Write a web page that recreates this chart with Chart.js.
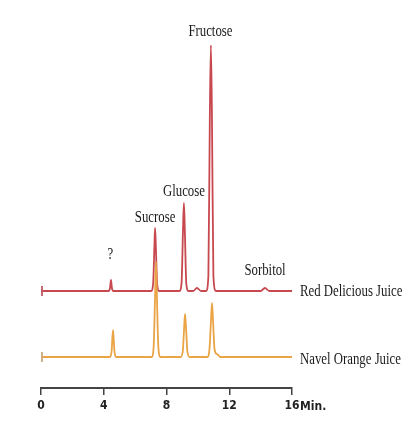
<!DOCTYPE html>
<html>
<head>
<meta charset="utf-8">
<script src="https://cdn.jsdelivr.net/npm/chart.js@4"></script>
<style>
  html, body { margin: 0; padding: 0; background: #fff; }
  #wrap { width: 412px; height: 422px; }
</style>
</head>
<body>
<div id="wrap"><canvas id="chart" width="412" height="422"></canvas></div>
<script>
//---data: time in minutes, signal above each trace's own baseline---
var redTimes = [0, 4.30, 4.40, 4.46, 4.52, 4.62,
  7.02, 7.15, 7.23, 7.27, 7.32, 7.40, 7.52,
  8.82, 8.96, 9.05, 9.11, 9.17, 9.26, 9.40,
  9.70, 9.94, 10.20,
  10.52, 10.67, 10.76, 10.83, 10.90, 10.99, 11.15,
  14.00, 14.28, 14.55, 16];
var redValues = [0, 0, 3, 11, 3, 0,
  0, 8, 45, 63, 45, 8, 0,
  0, 8, 60, 88, 60, 8, 0,
  0, 3, 0,
  0, 15, 170, 246, 170, 15, 0,
  0, 3, 0, 0];

var orangeTimes = [0, 4.40, 4.50, 4.59, 4.68, 4.78,
  7.05, 7.18, 7.27, 7.33, 7.39, 7.48, 7.62,
  8.90, 9.04, 9.12, 9.18, 9.25, 9.33, 9.47,
  10.60, 10.74, 10.83, 10.90, 10.97, 11.06, 11.20, 11.30, 11.42, 16];
var orangeValues = [0, 0, 6, 27, 6, 0,
  0, 10, 60, 95, 60, 10, 0,
  0, 6, 28, 43, 28, 6, 0,
  0, 8, 35, 54, 35, 8, 3, 2, 0, 0];

var tickValues = [0, 4, 8, 12, 16];
var traceNames = ['Red Delicious Juice', 'Navel Orange Juice'];
var peakNames = ['?', 'Sucrose', 'Glucose', 'Fructose', 'Sorbitol'];
var peakTimes = [4.42, 7.27, 9.11, 10.80, 14.28];
var peakLevels = [102, 139, 165, 325, 86]; // label centre, in chart units (orange baseline = 0)
var redOffset = 66; // red trace sits above the orange one

//-------------------Functions-------------------
function toPoints(times, values, offset) {
  var pts = [];
  for (var i = 0; i < times.length; i++) {
    pts.push({ x: times[i], y: values[i] + offset });
  }
  return pts;
}

function condensedText(ctx, text, x, y, align) {
  ctx.save();
  ctx.translate(x, y);
  ctx.scale(0.8, 1);
  ctx.textAlign = align;
  ctx.textBaseline = 'middle';
  ctx.fillText(text, 0, 0);
  ctx.restore();
}

var labelPlugin = {
  id: 'labels',
  afterDraw: function (chart) {
    var ctx = chart.ctx;
    var xs = chart.scales.x;
    var ys = chart.scales.y;

    // little start bars at the beginning of each trace
    ctx.save();
    ctx.lineWidth = 2;
    var starts = [[redOffset, 'rgba(190,90,100,0.9)'], [0, 'rgba(200,170,130,0.9)']];
    starts.forEach(function (s) {
      var px = xs.getPixelForValue(0) + 1;
      var py = ys.getPixelForValue(s[0]);
      ctx.strokeStyle = s[1];
      ctx.beginPath();
      ctx.moveTo(px, py - 5);
      ctx.lineTo(px, py + 5);
      ctx.stroke();
    });
    ctx.restore();

    ctx.save();
    ctx.fillStyle = '#1a1a1a';
    ctx.font = '16px "Liberation Serif", "Times New Roman", serif';
    for (var i = 0; i < peakNames.length; i++) {
      condensedText(ctx, peakNames[i], xs.getPixelForValue(peakTimes[i]), ys.getPixelForValue(peakLevels[i]), 'center');
    }
    var endX = xs.getPixelForValue(16) + 8;
    condensedText(ctx, traceNames[0], endX, ys.getPixelForValue(redOffset) + 1, 'left');
    condensedText(ctx, traceNames[1], endX, ys.getPixelForValue(0) + 3, 'left');

    // unit after the last tick
    ctx.font = 'bold 12px "Liberation Sans Narrow", "DejaVu Sans Condensed", sans-serif';
    ctx.fillStyle = '#222';
    ctx.textAlign = 'left';
    ctx.textBaseline = 'middle';
    ctx.fillText('Min.', xs.getPixelForValue(16) + 8, chart.chartArea.bottom + 19);
    ctx.restore();
  }
};

//-------------------Chart-------------------
document.addEventListener('DOMContentLoaded', function () {
  new Chart(document.getElementById('chart'), {
    type: 'line',
    data: {
      datasets: [{
        label: traceNames[1],
        data: toPoints(orangeTimes, orangeValues, 0),
        borderColor: 'rgb(234,164,70)',
        borderWidth: 1.8,
        pointRadius: 0,
        cubicInterpolationMode: 'monotone',
        fill: false
      }, {
        label: traceNames[0],
        data: toPoints(redTimes, redValues, redOffset),
        borderColor: 'rgb(200,72,80)',
        borderWidth: 1.8,
        pointRadius: 0,
        cubicInterpolationMode: 'monotone',
        fill: false
      }]
    },
    options: {
      responsive: false,
      animation: false,
      layout: { padding: { left: 41, right: 120, top: 45, bottom: 4.6 } },
      plugins: { legend: { display: false }, tooltip: { enabled: false } },
      scales: {
        x: {
          type: 'linear',
          min: 0,
          max: 16,
          afterBuildTicks: function (scale) {
            scale.ticks = tickValues.map(function (v) { return { value: v }; });
          },
          grid: { drawOnChartArea: false, drawTicks: true, tickLength: 7, color: '#444', lineWidth: 1.5 },
          border: { display: true, color: '#444', width: 2 },
          ticks: {
            padding: 4,
            color: '#222',
            autoSkip: false,
            maxRotation: 0,
            font: { family: '"Liberation Sans Narrow", "DejaVu Sans Condensed", sans-serif', size: 12, weight: 'bold' }
          }
        },
        y: { display: false, min: -31, max: 312 }
      }
    },
    plugins: [labelPlugin]
  });
});
</script>
</body>
</html>
